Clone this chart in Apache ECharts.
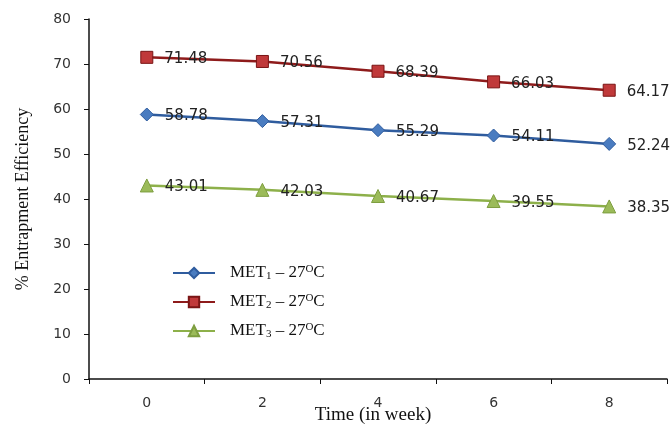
<!DOCTYPE html>
<html><head><meta charset="utf-8">
<script src="https://cdn.jsdelivr.net/npm/echarts@6/dist/echarts.min.js"></script>
<style>html,body{margin:0;padding:0;background:#fff}#c{width:670px;height:425px}</style>
</head><body><div id="c"></div>
<script>
const categories = ['0', '2', '4', '6', '8'];
const met1 = [58.78, 57.31, 55.29, 54.11, 52.24];
const met2 = [71.48, 70.56, 68.39, 66.03, 64.17];
const met3 = [43.01, 42.03, 40.67, 39.55, 38.35];
const seriesNames = ['MET1', 'MET2', 'MET3'];
const yTicks = [0, 10, 20, 30, 40, 50, 60, 70, 80];

const chart = echarts.init(document.getElementById('c'), null, {renderer: 'canvas'});
function mkSeries(name, vals, symbol, size, lineColor, fill, border) {
  return {
    name: name, type: 'line', data: vals,
    symbol: symbol, symbolSize: size,
    lineStyle: {color: lineColor, width: 2.5},
    itemStyle: {color: fill, borderColor: border, borderWidth: 1},
    label: {show: true, position: 'right', distance: 11, offset: [0, 2],
      fontFamily: 'DejaVu Sans', fontSize: 15, color: '#222',
      formatter: p => p.value.toFixed(2)},
    emphasis: {disabled: true}, animation: false
  };
}
const legendRich = {
  g: {width: 10},
  t: {fontFamily: 'Liberation Serif', fontSize: 17, color: '#111'},
  sub: {fontFamily: 'Liberation Serif', fontSize: 11, color: '#111', verticalAlign: 'bottom', padding: [7, 0, 0, 0]},
  sup: {fontFamily: 'Liberation Serif', fontSize: 11, color: '#111', verticalAlign: 'top', padding: [0, 0, 7, 0]}
};
chart.setOption({
  animation: false,
  grid: {left: 89, right: 3, top: 19, bottom: 46, containLabel: false, outerBoundsMode: 'none'},
  legend: {
    orient: 'vertical', left: 172, top: 264, padding: 0, itemGap: 11, itemWidth: 42, itemHeight: 13,
    data: seriesNames,
    formatter: n => '{g|}{t|MET}{sub|' + n.slice(3) + '}{t| – 27}{sup|O}{t|C}',
    textStyle: {rich: legendRich}
  },
  xAxis: {
    type: 'category', data: categories, boundaryGap: true,
    name: 'Time (in week)', nameLocation: 'middle', nameGap: 27, nameMoveOverlap: false,
    nameTextStyle: {fontFamily: 'Liberation Serif', fontSize: 19, color: '#111', padding: [0, 10, 0, 0]},
    axisLine: {lineStyle: {color: '#111', width: 1.5}},
    axisTick: {show: true, length: 5, lineStyle: {color: '#111'}},
    axisLabel: {fontFamily: 'DejaVu Sans', fontSize: 14, color: '#333', margin: 17}
  },
  yAxis: {
    type: 'value', min: yTicks[0], max: yTicks[yTicks.length - 1], interval: 10,
    name: '% Entrapment Efficiency', nameLocation: 'middle', nameGap: 57, nameMoveOverlap: false,
    nameTextStyle: {fontFamily: 'Liberation Serif', fontSize: 18, color: '#111'},
    axisLine: {show: true, lineStyle: {color: '#111', width: 1.5}},
    axisTick: {show: true, length: 5, lineStyle: {color: '#111'}},
    splitLine: {show: false},
    axisLabel: {fontFamily: 'DejaVu Sans', fontSize: 14, color: '#333', margin: 18}
  },
  series: [
    mkSeries(seriesNames[0], met1, 'diamond', 13, '#2F5C9E', '#4A7CC0', '#2F5C9E'),
    mkSeries(seriesNames[1], met2, 'rect', 12, '#8E1B1B', '#C0393A', '#7A1515'),
    mkSeries(seriesNames[2], met3, 'triangle', 13, '#8DB04A', '#9BBB59', '#7E9E40')
  ]
});
</script></body></html>
